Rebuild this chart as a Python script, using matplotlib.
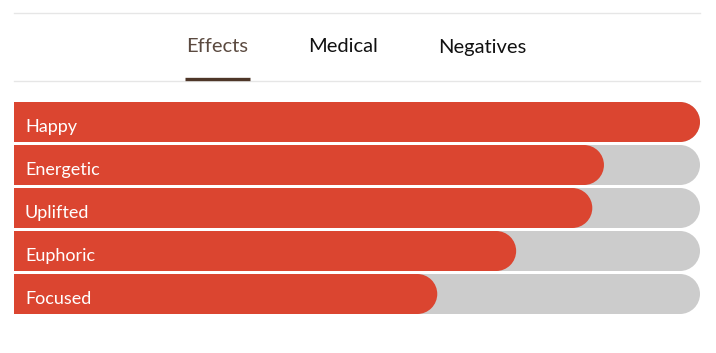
import matplotlib.pyplot as plt
from matplotlib.patches import Wedge

# data
effects = ["Happy", "Energetic", "Uplifted", "Euphoric", "Focused"]
scores = [100, 86, 84.3, 73.2, 61.7]  # percent of the full track
tabs = ["Effects", "Medical", "Negatives"]

red = "#db4530"
track = "#cccccc"

plt.rcParams['font.family'] = ['Lato', 'DejaVu Sans']

fig = plt.figure(figsize=(7.16, 3.53), dpi=100)
ax = fig.add_axes([0, 0, 1, 1])
ax.set_xlim(0, 716)
ax.set_ylim(353, 0)
ax.axis('off')

# tab header
ax.plot([14, 700], [13, 13], color="#e6e6e6", lw=1)
ax.plot([14, 700], [80.5, 80.5], color="#e6e6e6", lw=1)
tab_x = [217, 343, 482]
tab_col = ["#5b4a40", "#111111", "#111111"]
for name, tx, c in zip(tabs, tab_x, tab_col):
    ax.text(tx, 47, name, ha='center', va='center', fontsize=14.5, color=c)
ax.plot([185, 250], [79, 79], color="#4e3628", lw=2.4, solid_capstyle='butt')

# bars
x0, full, h, r = 14, 686, 40, 20
tops = [102 + i * 43 for i in range(len(effects))]
for name, v, top in zip(effects, scores, tops):
    yc = top + h / 2
    # grey track
    ax.barh(yc, full - r + 1, left=x0, height=h, color=track, lw=0)
    ax.add_patch(Wedge((x0 + full - r, yc), r, -90, 90, color=track, lw=0))
    # red value
    end = x0 + full * v / 100
    ax.barh(yc, end - r - x0 + 1, left=x0, height=h, color=red, lw=0)
    ax.add_patch(Wedge((end - r, yc), r, -90, 90, color=red, lw=0))
    ax.text(25, yc + 5, name, ha='left', va='center', fontsize=13, color='white')

fig.savefig("out.png", dpi=100, facecolor='white')
